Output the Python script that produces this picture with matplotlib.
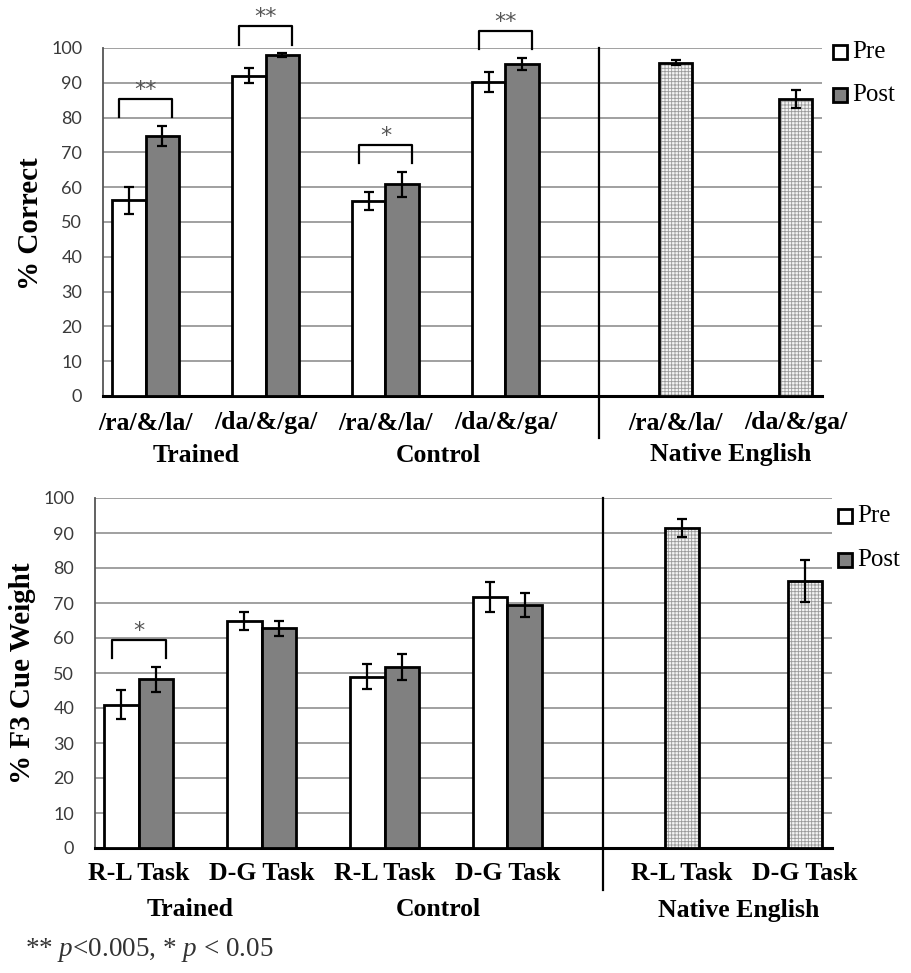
import matplotlib
matplotlib.use("Agg")
import matplotlib.pyplot as plt
import numpy as np
from matplotlib.patches import Rectangle

plt.rcParams['mathtext.fontset'] = 'custom'
plt.rcParams['mathtext.it'] = 'Liberation Serif:italic'
plt.rcParams['mathtext.rm'] = 'Liberation Serif'
plt.rcParams['hatch.linewidth'] = 0.6

SERIF = 'Liberation Serif'
W, H = 912, 973

# --- data: % correct (top panel)
groups = ['Trained', 'Control', 'Native English']
acc_ticks = ['/ra/&/la/', '/da/&/ga/', '/ra/&/la/', '/da/&/ga/']
acc_native_ticks = ['/ra/&/la/', '/da/&/ga/']
acc_pre = [56.2, 92.0, 56.1, 90.2]
acc_pre_err = [3.8, 2.2, 2.6, 2.8]
acc_post = [74.7, 98.0, 60.8, 95.4]
acc_post_err = [3.0, 0.5, 3.6, 1.8]
acc_native = [95.8, 85.4]
acc_native_err = [0.7, 2.6]
acc_sig = [(0, '**'), (1, '**'), (2, '*'), (3, '**')]

# --- data: % F3 cue weight (bottom panel)
cue_ticks = ['R-L Task', 'D-G Task', 'R-L Task', 'D-G Task']
cue_native_ticks = ['R-L Task', 'D-G Task']
cue_pre = [41.0, 64.8, 49.0, 71.8]
cue_pre_err = [4.2, 2.5, 3.5, 4.3]
cue_post = [48.2, 62.8, 51.7, 69.5]
cue_post_err = [3.5, 2.2, 3.6, 3.4]
cue_native = [91.5, 76.2]
cue_native_err = [2.6, 6.0]
cue_sig = [(0, '*')]

NATIVE_X = [4.42, 5.42]
BW = 0.28
PX = 0.72  # points per pixel at 100 dpi


def fig_box(left, top, right, bottom):
    return [left / W, 1 - bottom / H, (right - left) / W, (bottom - top) / H]


def draw_panel(ax, ticks, native_ticks, pre, pre_err, post, post_err,
               native, native_err, sig, tick_off, group_off):
    ax.set_xlim(-0.355, 5.64)
    ax.set_ylim(0, 100)
    ax.set_yticks(range(0, 101, 10))
    ax.set_xticks([])
    ax.yaxis.grid(True, color='#a0a0a0', lw=1.4)
    ax.set_axisbelow(True)
    ax.tick_params(axis='y', length=0, pad=15, labelsize=13, labelcolor='#3a3a3a')
    for lab in ax.get_yticklabels():
        lab.set_family('Lato')
    for s in ['top', 'right']:
        ax.spines[s].set_visible(False)
    ax.spines['left'].set_color('#555555')
    ax.spines['left'].set_linewidth(1.3)
    ax.spines['bottom'].set_color('black')
    ax.spines['bottom'].set_linewidth(2.2)

    ekw = dict(ecolor='black', elinewidth=1.6, capsize=3.5, capthick=1.6, zorder=5)
    x = np.arange(len(ticks))
    ax.bar(x - BW / 2, pre, BW, yerr=pre_err, color='white', edgecolor='black',
           lw=2, error_kw=ekw, zorder=3)
    ax.bar(x + BW / 2, post, BW, yerr=post_err, color='#808080', edgecolor='black',
           lw=2, error_kw=ekw, zorder=3)
    # native bars: dotted fill, then black outline
    ax.bar(NATIVE_X, native, BW, color='#f4f4f4', edgecolor='#9a9a9a', lw=0,
           hatch='+++++', zorder=3)
    ax.bar(NATIVE_X, native, BW, yerr=native_err, color='none', edgecolor='black',
           lw=2, error_kw=ekw, zorder=4)

    # significance brackets
    for i, label in sig:
        leg = max(pre[i] + pre_err[i], post[i] + post_err[i]) + 2.5
        peak = leg + 5.2
        ax.plot([i - 0.22, i - 0.22, i + 0.22, i + 0.22], [leg, peak, peak, leg],
                color='black', lw=1.6, clip_on=False, zorder=6)
        ax.text(i, peak + 0.9, label, ha='center', va='baseline', fontsize=16,
                color='#555555', family='DejaVu Sans', clip_on=False)

    # divider between learners and native speakers
    ax.plot([3.78, 3.78], [100, -12], color='black', lw=1.6, clip_on=False, zorder=6)

    # category and group labels
    for xi, t in zip(list(x) + NATIVE_X, ticks + native_ticks):
        ax.annotate(t, xy=(xi, 0), xycoords=('data', 'axes fraction'),
                    xytext=(0, -tick_off * PX), textcoords='offset points',
                    ha='center', va='center', fontsize=18.5, fontweight='bold',
                    family=SERIF)
    group_x = [0.42, 2.44, 4.88]
    for gx, g in zip(group_x, groups):
        ax.annotate(g, xy=(gx, 0), xycoords=('data', 'axes fraction'),
                    xytext=(0, -group_off * PX), textcoords='offset points',
                    ha='center', va='center', fontsize=18.5, fontweight='bold',
                    family=SERIF)


def draw_legend(fig, x, y_pre, y_post):
    for y, face, lab in [(y_pre, 'white', 'Pre'), (y_post, '#808080', 'Post')]:
        fig.add_artist(Rectangle((x / W, 1 - (y + 7) / H), 14 / W, 14 / H,
                                 transform=fig.transFigure, facecolor=face,
                                 edgecolor='black', lw=2))
        fig.text((x + 19) / W, 1 - y / H, lab, ha='left', va='center',
                 fontsize=18, family=SERIF)


fig = plt.figure(figsize=(W / 100, H / 100), dpi=100)

ax1 = fig.add_axes(fig_box(103, 48, 822, 396))
draw_panel(ax1, acc_ticks, acc_native_ticks, acc_pre, acc_pre_err, acc_post,
           acc_post_err, acc_native, acc_native_err, acc_sig, 27, 59)
fig.text(31 / W, 1 - 224 / H, '% Correct', rotation=90, ha='center', va='center',
         fontsize=21, fontweight='bold', family=SERIF)
draw_legend(fig, 833, 52, 95)

ax2 = fig.add_axes(fig_box(95, 498, 832, 848))
draw_panel(ax2, cue_ticks, cue_native_ticks, cue_pre, cue_pre_err, cue_post,
           cue_post_err, cue_native, cue_native_err, cue_sig, 25, 62)
fig.text(23 / W, 1 - 673 / H, '% F3 Cue Weight', rotation=90, ha='center',
         va='center', fontsize=21, fontweight='bold', family=SERIF)
draw_legend(fig, 838, 516, 560)

fig.text(25 / W, 1 - 950 / H, r'** $p$<0.005, * $p$ < 0.05', ha='left',
         va='center', fontsize=19.5, family=SERIF, color='#333333')

fig.savefig('out.png', dpi=100)
